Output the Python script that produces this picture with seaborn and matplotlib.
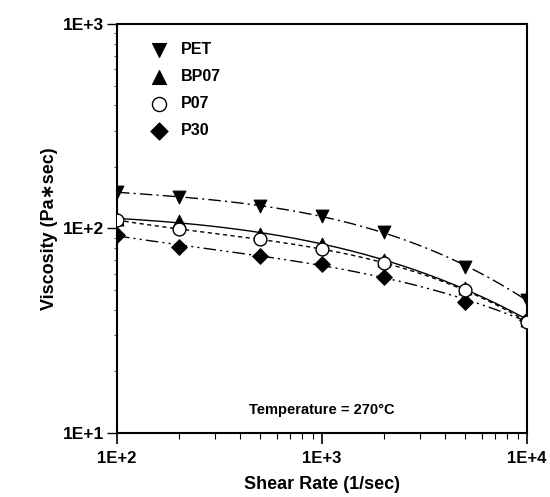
import numpy as np
import pandas as pd
import matplotlib
matplotlib.use("Agg")
import matplotlib.pyplot as plt
import seaborn as sns
from matplotlib.ticker import LogLocator, NullFormatter, FixedLocator, FixedFormatter

shear_rate = [100, 200, 500, 1000, 2000, 5000, 10000]
pet = [151, 142, 129, 115, 96, 65, 44.7]
bp07 = [111, 109, 94, 84, 70, 51, 35.7]
p07 = [110, 99.5, 88.5, 79.4, 67.6, 50, 35]
p30 = [93, 81.5, 73.5, 66.9, 58, 43.8, 35.5]
series_names = ["PET", "BP07", "P07", "P30"]
x_ticks = [1e2, 1e3, 1e4]
x_tick_labels = ["1E+2", "1E+3", "1E+4"]
y_ticks = [1e1, 1e2, 1e3]
y_tick_labels = ["1E+1", "1E+2", "1E+3"]

sns.set_theme(style="white")
plt.rcParams['font.family'] = ['Liberation Sans', 'DejaVu Sans']
plt.rcParams['text.color'] = 'black'
plt.rcParams['axes.labelcolor'] = 'black'
plt.rcParams['xtick.color'] = 'black'
plt.rcParams['ytick.color'] = 'black'

values = {"PET": pet, "BP07": bp07, "P07": p07, "P30": p30}
df = pd.DataFrame([{"rate": r, "visc": v, "series": s}
                   for s in series_names for r, v in zip(shear_rate, values[s])])

# smooth fit curves (in log-log space) through the measured points
rows = []
lx = np.log10(shear_rate)
xs = np.linspace(lx.min(), lx.max(), 200)
for s in series_names:
    c = np.polyfit(lx, np.log10(values[s]), 3)
    for xv in xs:
        rows.append({"rate": 10 ** xv, "visc": 10 ** np.polyval(c, xv), "series": s})
fit = pd.DataFrame(rows)

fig = plt.figure(figsize=(5.5, 4.97), dpi=100)
ax = fig.add_axes([0.2127, 0.1288, 0.7455, 0.8229])

dashes = {"PET": (9, 3, 1.5, 3), "BP07": "", "P07": (3, 2.5), "P30": (9, 3, 1.5, 3, 1.5, 3)}
sns.lineplot(data=fit, x="rate", y="visc", hue="series", style="series",
             palette={s: "black" for s in series_names}, dashes=dashes,
             linewidth=1.0, ax=ax, legend=False, sort=False, estimator=None)

markers = {"PET": "v", "BP07": "^", "P07": "o", "P30": "D"}
for s in series_names:
    sub = df[df.series == s]
    if s == "P07":
        sns.scatterplot(data=sub, x="rate", y="visc", marker="o", s=85,
                        facecolor="white", edgecolor="black", linewidth=1.0,
                        ax=ax, label=s, zorder=4)
    else:
        sns.scatterplot(data=sub, x="rate", y="visc", marker=markers[s],
                        s=85 if s != "P30" else 65, color="black",
                        edgecolor="black", ax=ax, label=s, zorder=3)

ax.set_xscale("log")
ax.set_yscale("log")
ax.set_xlim(100, 10000)
ax.set_ylim(10, 1000)

ax.xaxis.set_major_locator(FixedLocator(x_ticks))
ax.xaxis.set_major_formatter(FixedFormatter(x_tick_labels))
ax.yaxis.set_major_locator(FixedLocator(y_ticks))
ax.yaxis.set_major_formatter(FixedFormatter(y_tick_labels))
ax.xaxis.set_minor_locator(LogLocator(base=10, subs=np.arange(2, 10)))
ax.xaxis.set_minor_formatter(NullFormatter())
ax.yaxis.set_minor_locator(LogLocator(base=10, subs=np.arange(2, 10)))
ax.yaxis.set_minor_formatter(NullFormatter())

ax.tick_params(axis="x", which="major", direction="out", length=8, width=1.2,
               bottom=True, labelsize=12, pad=5, colors="black")
ax.tick_params(axis="x", which="minor", direction="out", length=4, width=0.8, bottom=True)
ax.tick_params(axis="y", which="major", direction="out", length=7, width=1.0,
               left=True, labelsize=12.5, pad=2, colors="black")
ax.tick_params(axis="y", which="minor", direction="out", length=2, width=0.5, left=True)
for lab in ax.get_xticklabels() + ax.get_yticklabels():
    lab.set_fontweight("bold")

for sp in ax.spines.values():
    sp.set_color("black")
    sp.set_linewidth(1.5)

ax.set_xlabel("Shear Rate (1/sec)", fontsize=13, fontweight="bold", color="black")
ax.xaxis.set_label_coords(0.5, -0.104)
ax.set_ylabel("Viscosity (Pa\u2217sec)", fontsize=13, fontweight="bold", labelpad=4, color="black")

ax.text(0.5, 0.055, "Temperature = 270°C", transform=ax.transAxes,
        ha="center", va="center", fontsize=10.5, fontweight="bold", color="black")

leg = ax.legend(loc="upper left", bbox_to_anchor=(0.04, 0.98), frameon=False,
                prop={"weight": "bold", "size": 11.5}, handletextpad=0.4,
                labelspacing=0.75, borderaxespad=0.2, markerscale=1.1)
for t in leg.get_texts():
    t.set_color("black")

fig.savefig("out.png", dpi=100, facecolor="white")
